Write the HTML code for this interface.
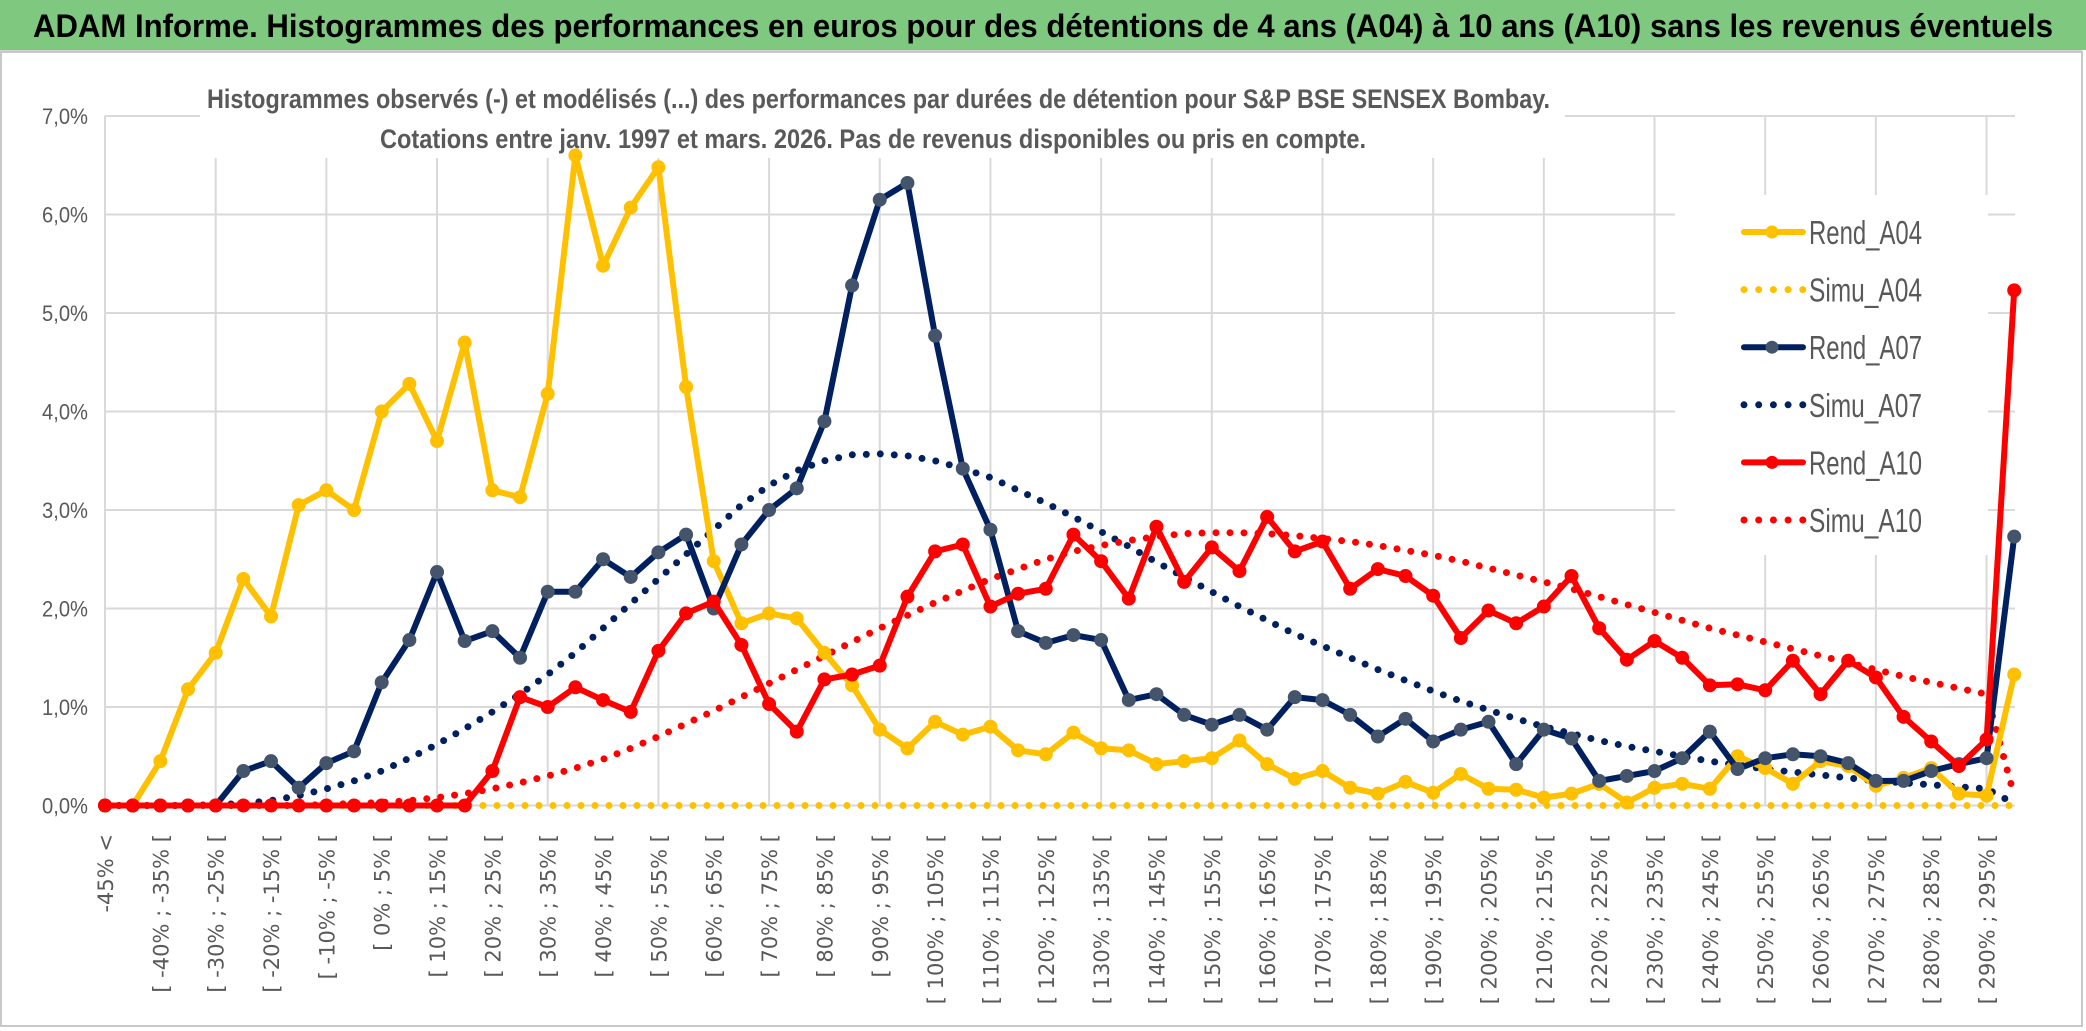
<!DOCTYPE html>
<html><head><meta charset="utf-8"><style>
html,body{margin:0;padding:0;background:#fff;}
svg{display:block;}
</style></head><body>
<svg id="chart" width="2086" height="1031" viewBox="0 0 2086 1031" xmlns="http://www.w3.org/2000/svg">
<rect x="0" y="0" width="2086" height="1031" fill="#fff"/>
<rect x="0" y="0" width="2086" height="50" fill="#7ec87f"/>
<line x1="0" y1="51" x2="2082" y2="51" stroke="#d0d0d0" stroke-width="2"/>
<rect x="1" y="52" width="2081" height="974" fill="none" stroke="#c8c8c8" stroke-width="2"/>
<text x="33" y="37" font-family="'Liberation Sans Narrow','Liberation Sans',sans-serif" font-weight="bold" font-size="32" fill="#000" textLength="2020" lengthAdjust="spacingAndGlyphs">ADAM Informe. Histogrammes des performances en euros pour des détentions de 4 ans (A04) à 10 ans (A10) sans les revenus éventuels</text>
<g id="grid"></g>
<rect x="200" y="72" width="1365" height="86" fill="#fff"/>
<text x="207" y="108" font-family="'Liberation Sans Narrow','Liberation Sans',sans-serif" font-weight="bold" font-size="27" fill="#595959" textLength="1343" lengthAdjust="spacingAndGlyphs">Histogrammes observés (-) et modélisés (...) des performances par durées de détention pour S&amp;P BSE SENSEX Bombay.</text>
<text x="380" y="148" font-family="'Liberation Sans Narrow','Liberation Sans',sans-serif" font-weight="bold" font-size="27" fill="#595959" textLength="986" lengthAdjust="spacingAndGlyphs">Cotations entre janv. 1997 et mars. 2026. Pas de revenus disponibles ou pris en compte.</text>
<g id="yaxis"></g>
<g id="xaxis"></g>
<g id="series"></g>
<g id="legend"></g>
</svg>
<script>
const categories = ["-45% <","[ -45% ; -40% [","[ -40% ; -35% [","[ -35% ; -30% [","[ -30% ; -25% [","[ -25% ; -20% [","[ -20% ; -15% [","[ -15% ; -10% [","[ -10% ; -5% [","[ -5% ; 0% [",
"[ 0% ; 5% [","[ 5% ; 10% [","[ 10% ; 15% [","[ 15% ; 20% [","[ 20% ; 25% [","[ 25% ; 30% [","[ 30% ; 35% [","[ 35% ; 40% [","[ 40% ; 45% [","[ 45% ; 50% [",
"[ 50% ; 55% [","[ 55% ; 60% [","[ 60% ; 65% [","[ 65% ; 70% [","[ 70% ; 75% [","[ 75% ; 80% [","[ 80% ; 85% [","[ 85% ; 90% [","[ 90% ; 95% [","[ 95% ; 100% [",
"[ 100% ; 105% [","[ 105% ; 110% [","[ 110% ; 115% [","[ 115% ; 120% [","[ 120% ; 125% [","[ 125% ; 130% [","[ 130% ; 135% [","[ 135% ; 140% [","[ 140% ; 145% [","[ 145% ; 150% [",
"[ 150% ; 155% [","[ 155% ; 160% [","[ 160% ; 165% [","[ 165% ; 170% [","[ 170% ; 175% [","[ 175% ; 180% [","[ 180% ; 185% [","[ 185% ; 190% [","[ 190% ; 195% [","[ 195% ; 200% [",
"[ 200% ; 205% [","[ 205% ; 210% [","[ 210% ; 215% [","[ 215% ; 220% [","[ 220% ; 225% [","[ 225% ; 230% [","[ 230% ; 235% [","[ 235% ; 240% [","[ 240% ; 245% [","[ 245% ; 250% [",
"[ 250% ; 255% [","[ 255% ; 260% [","[ 260% ; 265% [","[ 265% ; 270% [","[ 270% ; 275% [","[ 275% ; 280% [","[ 280% ; 285% [","[ 285% ; 290% [","[ 290% ; 295% [","[ 295% ; 300% ["];
const yTicks = [0,1,2,3,4,5,6,7];
const yTickLabels = ["0,0%","1,0%","2,0%","3,0%","4,0%","5,0%","6,0%","7,0%"];
const rendA04 = [0,0,0.45,1.18,1.55,2.3,1.92,3.05,3.2,3.0,4.0,4.28,3.7,4.7,3.2,3.13,4.18,6.6,5.48,6.07,6.48,4.25,2.48,1.85,1.95,1.9,1.55,1.22,0.77,0.58,0.85,0.72,0.8,0.56,0.52,0.74,0.58,0.56,0.42,0.45,0.48,0.66,0.42,0.27,0.35,0.18,0.12,0.24,0.13,0.32,0.17,0.16,0.08,0.12,0.22,0.03,0.18,0.22,0.17,0.5,0.38,0.22,0.45,0.4,0.2,0.28,0.38,0.12,0.1,1.33];
const simuA04 = [0,0,0,0,0,0,0,0,0,0,0,0,0,0,0,0,0,0,0,0,0,0,0,0,0,0,0,0,0,0,0,0,0,0,0,0,0,0,0,0,0,0,0,0,0,0,0,0,0,0,0,0,0,0,0,0,0,0,0,0,0,0,0,0,0,0,0,0,0,0];
const rendA07 = [0,0,0,0,0,0.35,0.45,0.18,0.43,0.55,1.25,1.68,2.37,1.67,1.77,1.5,2.17,2.17,2.5,2.32,2.57,2.75,2.0,2.65,3.0,3.22,3.9,5.28,6.15,6.32,4.77,3.42,2.8,1.77,1.65,1.73,1.68,1.07,1.13,0.92,0.82,0.92,0.77,1.1,1.07,0.92,0.7,0.88,0.65,0.77,0.85,0.42,0.77,0.68,0.25,0.3,0.35,0.48,0.75,0.37,0.48,0.52,0.5,0.43,0.25,0.25,0.35,0.42,0.48,2.73];
const simuA07 = [0,0,0,0,0.01,0.02,0.05,0.1,0.17,0.25,0.35,0.48,0.62,0.78,0.95,1.13,1.33,1.55,1.8,2.05,2.3,2.55,2.8,3.05,3.25,3.4,3.5,3.56,3.57,3.55,3.5,3.42,3.33,3.2,3.07,2.93,2.78,2.63,2.47,2.32,2.17,2.02,1.88,1.74,1.62,1.5,1.38,1.27,1.16,1.06,0.97,0.88,0.8,0.73,0.66,0.6,0.55,0.5,0.45,0.41,0.37,0.34,0.31,0.28,0.25,0.23,0.21,0.19,0.17,0.02];
const rendA10 = [0,0,0,0,0,0,0,0,0,0,0,0,0,0,0.35,1.1,1.0,1.2,1.07,0.95,1.57,1.95,2.07,1.63,1.03,0.75,1.28,1.33,1.42,2.12,2.58,2.65,2.02,2.15,2.2,2.75,2.48,2.1,2.83,2.27,2.62,2.38,2.93,2.58,2.68,2.2,2.4,2.33,2.13,1.7,1.98,1.85,2.02,2.33,1.8,1.48,1.67,1.5,1.22,1.23,1.17,1.47,1.13,1.47,1.3,0.9,0.65,0.4,0.67,5.23];
const simuA10 = [0,0,0,0,0,0,0,0,0.01,0.02,0.03,0.05,0.08,0.12,0.17,0.23,0.3,0.38,0.47,0.58,0.7,0.83,0.96,1.1,1.24,1.38,1.52,1.66,1.8,1.93,2.06,2.18,2.3,2.4,2.5,2.58,2.64,2.69,2.73,2.76,2.77,2.77,2.76,2.74,2.71,2.68,2.64,2.59,2.54,2.48,2.41,2.34,2.27,2.2,2.12,2.04,1.96,1.88,1.8,1.73,1.66,1.59,1.52,1.45,1.38,1.31,1.25,1.19,1.13,0.1];

const NS = "http://www.w3.org/2000/svg";
const X0 = 105, STEP = 27.67, Y0 = 805.5, YPER = 98.5, XR = 2015;
function xPos(i){ return X0 + i*STEP; }
function yPos(v){ return Y0 - v*YPER; }
function mk(tag, attrs, parent){ const e=document.createElementNS(NS,tag); for(const k in attrs) e.setAttribute(k,attrs[k]); parent.appendChild(e); return e; }
const FONT = "'Liberation Sans Narrow','Liberation Sans',sans-serif";

const grid = document.getElementById('grid');
yTicks.forEach((t,k)=>{
  const l = mk('line',{x1:X0,x2:XR,y1:yPos(t),y2:yPos(t),stroke:'#d9d9d9','stroke-width':2},grid);
  
  
});
for(let i=0;i<categories.length;i+=4){
  const l = mk('line',{x1:xPos(i),x2:xPos(i),y1:yPos(7),y2:Y0,stroke:'#d9d9d9','stroke-width':2},grid);
  
  
}
const yaxis = document.getElementById('yaxis');
yTicks.forEach((t,k)=>{
  const tx = mk('text',{x:88,y:yPos(t)+8,'text-anchor':'end','font-family':FONT,'font-size':22,fill:'#595959',textLength:46,lengthAdjust:'spacingAndGlyphs'},yaxis);
  tx.textContent = yTickLabels[k];
  
  
});
const xaxis = document.getElementById('xaxis');
for(let i=0;i<categories.length;i+=2){
  const x = xPos(i)+8, y = 834;
  const tx = mk('text',{x:x,y:y,'text-anchor':'end',transform:'rotate(-90 '+x+' '+y+')','font-family':"'DejaVu Sans',sans-serif",'font-size':21,fill:'#595959'},xaxis);
  tx.textContent = categories[i];
  
  
}
const series = document.getElementById('series');
function pts(arr){ return arr.map((v,i)=>xPos(i).toFixed(1)+','+yPos(v).toFixed(1)).join(' '); }
function dotted(arr,color,name){
  const p = mk('polyline',{points:pts(arr),fill:'none',stroke:color,'stroke-width':7,'stroke-linecap':'round','stroke-dasharray':'0 14'},series);
  
  
}
function solid(arr,color,mcolor,name){
  const g = mk('g',{},series);
  
  
  mk('polyline',{points:pts(arr),fill:'none',stroke:color,'stroke-width':6,'stroke-linejoin':'round'},g);
  arr.forEach((v,i)=>{
    const c = mk('circle',{cx:xPos(i),cy:yPos(v),r:6.5,fill:mcolor,stroke:mcolor},g);
    
    
  });
}
dotted(simuA04,'#ffc000','simu-a04-line');
dotted(simuA07,'#002060','simu-a07-line');
dotted(simuA10,'#ff0000','simu-a10-line');
solid(rendA04,'#ffc000','#ffc000','rend-a04-line');
solid(rendA07,'#002060','#44546a','rend-a07-line');
solid(rendA10,'#ff0000','#ff0000','rend-a10-line');

const legend = document.getElementById('legend');
mk('rect',{x:1675,y:195,width:313,height:360,fill:'#fff'},legend);
const legItems = [["Rend_A04",'#ffc000','#ffc000',false],["Simu_A04",'#ffc000','#ffc000',true],["Rend_A07",'#002060','#44546a',false],["Simu_A07",'#002060','#002060',true],["Rend_A10",'#ff0000','#ff0000',false],["Simu_A10",'#ff0000','#ff0000',true]];
legItems.forEach((it,k)=>{
  const y = 232 + k*57.6;
  const g = mk('g',{},legend);
  
  
  if(it[3]){
    mk('line',{x1:1744,x2:1803,y1:y,y2:y,stroke:it[1],'stroke-width':7,'stroke-linecap':'round','stroke-dasharray':'0 14.7'},g);
  } else {
    mk('line',{x1:1744,x2:1803,y1:y,y2:y,stroke:it[1],'stroke-width':6,'stroke-linecap':'round'},g);
    mk('circle',{cx:1772,cy:y,r:6.5,fill:it[2]},g);
  }
  const t = mk('text',{x:1809,y:y+12,'font-family':FONT,'font-size':33,fill:'#595959',textLength:113,lengthAdjust:'spacingAndGlyphs'},g);
  t.textContent = it[0];
});
</script>
</body></html>
